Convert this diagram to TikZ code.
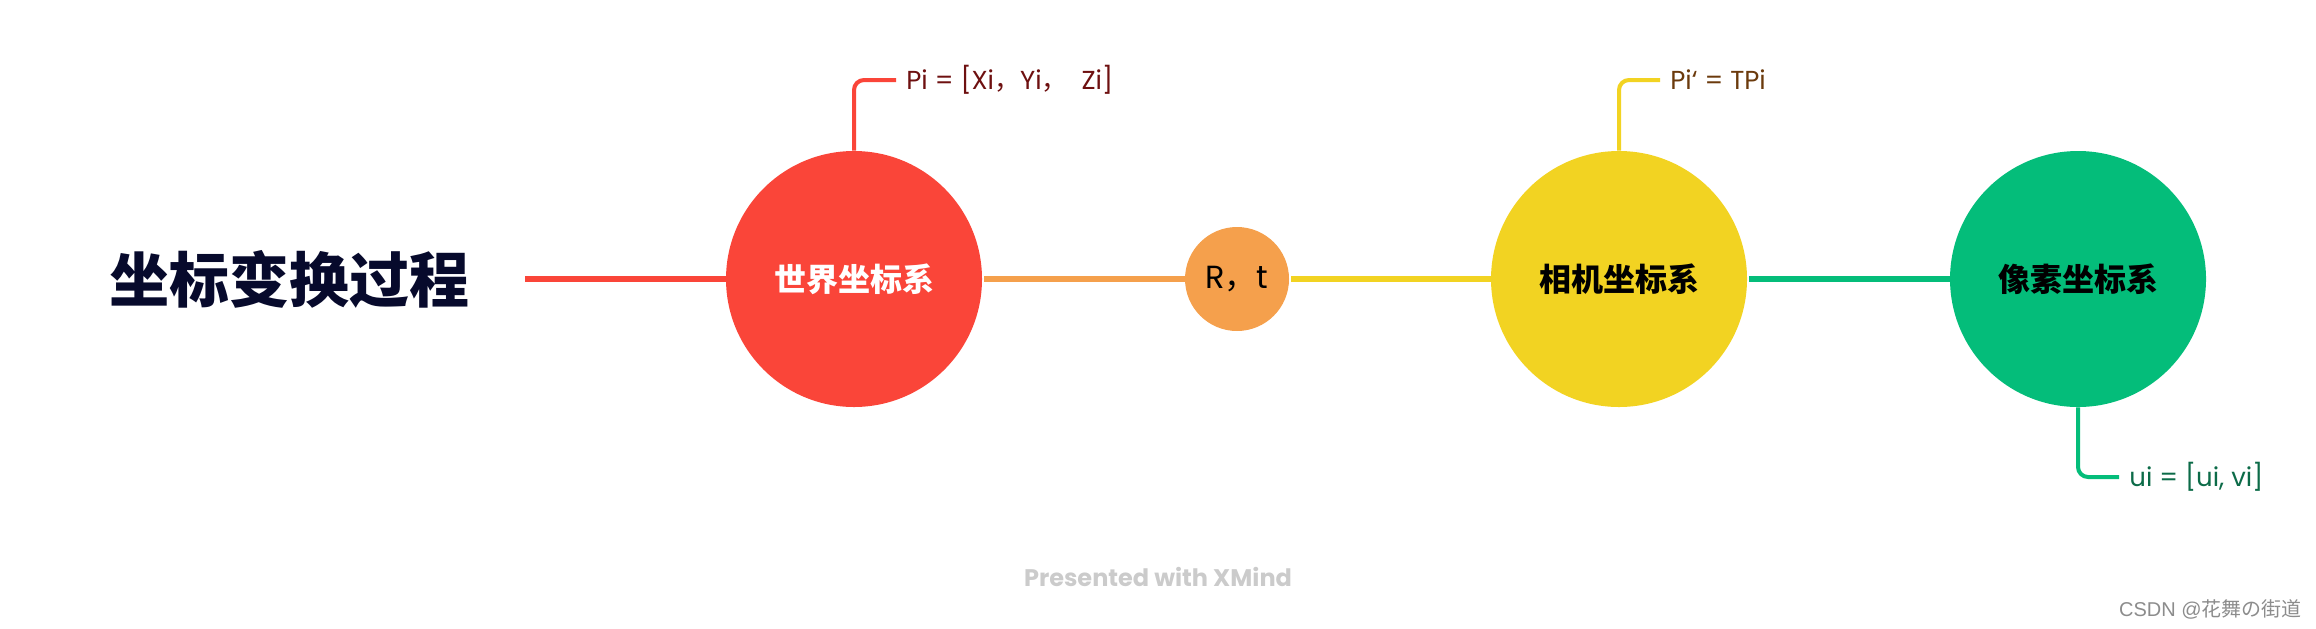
\documentclass[tikz,border=0pt]{standalone}
\usepackage{fontspec}
\setmainfont{Poppins}
\newfontfamily\cjk{Noto Sans CJK SC}
\newfontfamily\wmfont{Liberation Sans}
\usepackage{tikz}
\usetikzlibrary{positioning, calc}

\definecolor{xred}{HTML}{FA4539}
\definecolor{xorange}{HTML}{F5A04C}
\definecolor{xyellow}{HTML}{F2D322}
\definecolor{xgreen}{HTML}{04BD7A}
\definecolor{xnavy}{HTML}{070A2C}
\definecolor{tred}{HTML}{6E1010}
\definecolor{tbrown}{HTML}{6B3A0C}
\definecolor{tgreen}{HTML}{0C6B48}
\definecolor{xgrey}{HTML}{CBCBCB}

\begin{document}
\begin{tikzpicture}[%
    x=0.5pt, y=-0.5pt,  % pixel grid, y downwards
    bubble/.style={circle, minimum size=128pt, inner sep=0pt,
        font=\cjk\bfseries\fontsize{16pt}{19pt}\selectfont},
    branch/.style={line width=3pt, shorten <=1pt},
    callout/.style={line width=2pt, rounded corners=5pt},
    note/.style={anchor=west, inner sep=5pt,
        font=\fontsize{13pt}{16pt}\selectfont}
]
    \useasboundingbox (0,0) rectangle (2316,628);

    % ==========================================
    % 1. Topics (Nodes)
    % ==========================================
    \node[text=xnavy, font=\cjk\bfseries\fontsize{30pt}{36pt}\selectfont,
        inner sep=0pt] (title) at (289, 279) {坐标变换过程};
    \node[bubble, fill=xred, text=white] (world) at (854, 279) {世界坐标系};
    \node[circle, minimum size=52pt, inner sep=0pt, fill=xorange,
        font=\fontsize{16pt}{19pt}\selectfont] (rt) at (1237, 279) {R{\cjk ，}t};
    \node[bubble, fill=xyellow] (camera) at (1619, 279) {相机坐标系};
    \node[bubble, fill=xgreen] (pixel) at (2078, 279) {像素坐标系};

    % ==========================================
    % 2. Branches (Edges)
    % ==========================================
    \draw[branch, xred, shorten <=28pt] (title.east) -- (world.west);
    \draw[branch, xorange] (world.east) -- (rt.west);
    \draw[branch, xyellow] (rt.east) -- (camera.west);
    \draw[branch, xgreen] (camera.east) -- (pixel.west);

    % ==========================================
    % 3. Notes (callouts)
    % ==========================================
    \node[note, text=tred] (pw) at (896, 80) {Pi = [Xi{\cjk ，}Yi{\cjk ，}\ \ Zi]};
    \node[note, text=tbrown] (pc) at (1660, 80) {Pi‘ = TPi};
    \node[note, text=tgreen] (uv) at (2119, 477) {ui = [ui, vi]};

    \draw[callout, xred] (world.north) |- (pw.west);
    \draw[callout, xyellow] (camera.north) |- (pc.west);
    \draw[callout, xgreen] (pixel.south) |- (uv.west);

    % footer
    \node[text=xgrey, font=\bfseries\fontsize{12pt}{14pt}\selectfont]
        (brand) at (1158, 577) {Presented with XMind};
    \node[anchor=east, text=black!45, inner sep=0pt,
        font=\wmfont\fontsize{10pt}{12pt}\selectfont]
        (mark) at (2302, 609) {CSDN @{\cjk 花舞の街道}};
\end{tikzpicture}
\end{document}
